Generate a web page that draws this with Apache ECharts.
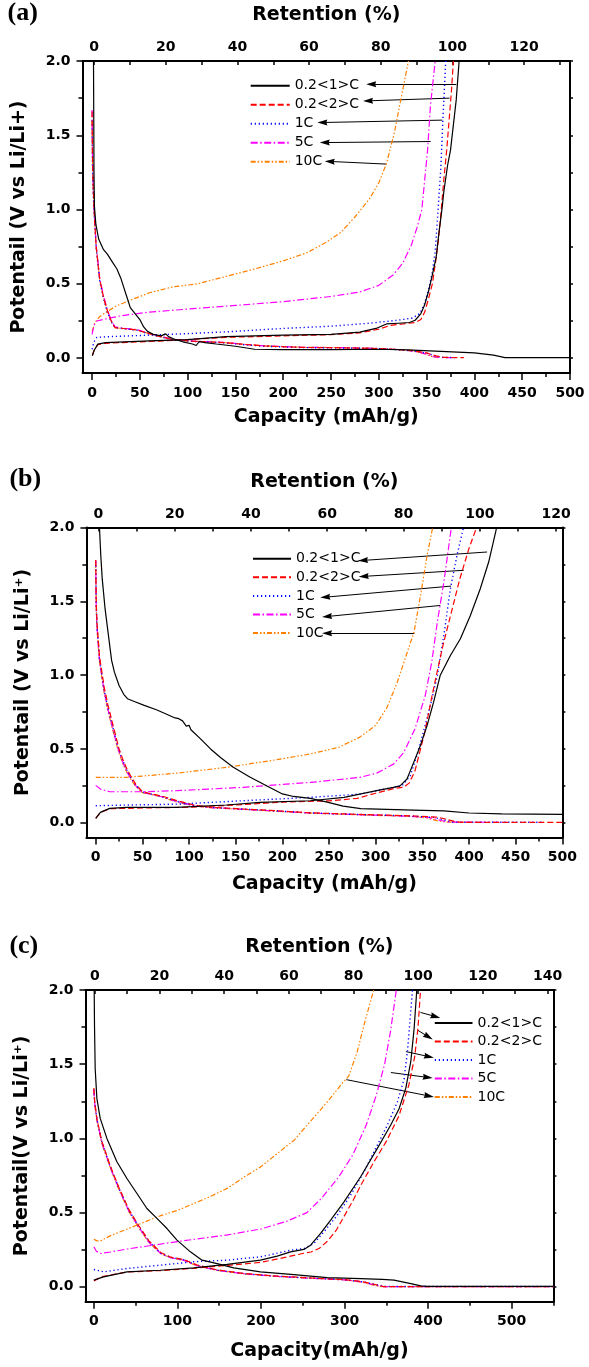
<!DOCTYPE html>
<html><head><meta charset="utf-8">
<script src="https://cdn.jsdelivr.net/npm/echarts@6/dist/echarts.min.js"></script>
<style>html,body{margin:0;padding:0;background:#fff}#c{width:589px;height:1367px}</style>
</head><body><div id="c"></div>
<script>
// ---------------- DATA ----------------
const rates = ['0.2<1>C', '0.2<2>C', '1C', '5C', '10C'];

// Panel (a): [capacity mAh/g, potential V]
const a_r1_dis = [[1.5,2.0],[1.8,1.6],[2.0,1.25],[2.5,1.02],[4,0.9],[7,0.8],[12,0.73],[16,0.70],[21,0.65],[26,0.60],[30,0.54],[33,0.48],[36,0.42],[40,0.34],[45,0.30],[50,0.26],[54,0.21],[58,0.18],[64,0.16],[72,0.15],[77,0.163],[80,0.145],[85,0.13],[95,0.11],[105,0.095],[109,0.085],[112,0.112],[118,0.105],[130,0.095],[150,0.08],[170,0.06],[200,0.057],[250,0.057],[300,0.06],[330,0.055],[365,0.045],[400,0.035],[420,0.02],[432,0.004],[500,0.004]];
const a_r1_chg = [[0.3,0.016],[2,0.05],[6,0.094],[14,0.105],[60,0.116],[100,0.125],[140,0.145],[200,0.155],[250,0.16],[280,0.175],[297,0.2],[308,0.23],[320,0.235],[332,0.24],[338,0.255],[344,0.3],[348,0.36],[352,0.45],[356,0.56],[360,0.68],[363,0.85],[366,1.0],[368,1.12],[372,1.3],[375,1.4],[378,1.57],[381,1.74],[384,2.0]];
const a_r2_dis = [[0,1.66],[0.5,1.35],[1.2,1.15],[2.3,0.98],[4.3,0.75],[8,0.53],[12,0.41],[16,0.32],[20,0.25],[24,0.205],[35,0.198],[47,0.19],[57,0.17],[67,0.152],[86,0.123],[110,0.112],[137,0.105],[160,0.092],[180,0.082],[220,0.072],[260,0.07],[297,0.065],[320,0.058],[336,0.05],[350,0.035],[360,0.015],[368,0.005],[389,0.003]];
const a_r2_chg = [[0.3,0.02],[2,0.05],[6,0.09],[14,0.1],[60,0.112],[100,0.125],[140,0.14],[200,0.15],[250,0.158],[280,0.17],[300,0.195],[312,0.22],[325,0.23],[338,0.24],[344,0.26],[348,0.31],[352,0.4],[356,0.5],[359,0.63],[361.5,0.75],[364,0.9],[366,1.05],[368,1.2],[371,1.4],[373,1.56],[376,1.8],[378,2.0]];
const a_r3_dis = [[0,1.6],[0.5,1.3],[1.2,1.12],[2.3,0.96],[4.3,0.74],[8,0.52],[12,0.4],[16,0.31],[20,0.245],[24,0.205],[35,0.197],[47,0.188],[57,0.168],[67,0.15],[86,0.122],[110,0.111],[137,0.104],[160,0.09],[180,0.08],[220,0.071],[260,0.069],[297,0.064],[320,0.057],[336,0.049],[350,0.033],[360,0.014],[368,0.005],[383,0.003]];
const a_r3_chg = [[0,0.06],[2,0.11],[5,0.14],[20,0.145],[60,0.155],[100,0.165],[150,0.18],[200,0.2],[250,0.215],[290,0.235],[320,0.255],[335,0.27],[343,0.3],[348,0.37],[352,0.46],[356,0.58],[359,0.72],[361,0.9],[363,1.1],[365,1.3],[367,1.6],[370,2.0]];
const a_r4_dis = [[0,1.67],[0.5,1.36],[1.2,1.16],[2.3,0.99],[4.3,0.76],[8,0.54],[12,0.42],[16,0.325],[20,0.255],[24,0.21],[35,0.2],[47,0.192],[57,0.172],[67,0.154],[86,0.125],[110,0.113],[137,0.106],[160,0.093],[180,0.083],[220,0.073],[260,0.071],[297,0.066],[320,0.058],[336,0.048],[348,0.03],[357,0.01],[365,0.004],[377,0.003]];
const a_r4_chg = [[0,0.16],[2,0.22],[5,0.25],[15,0.265],[30,0.285],[60,0.31],[100,0.33],[150,0.355],[200,0.38],[250,0.415],[280,0.445],[300,0.49],[315,0.56],[325,0.64],[334,0.76],[340,0.88],[345,1.0],[348,1.2],[351,1.4],[354,1.7],[359,2.0]];
const a_r5_dis = [[0,1.6],[0.5,1.3],[1.2,1.13],[2.3,0.97],[4.3,0.75],[8,0.53],[12,0.41],[16,0.32],[20,0.25],[24,0.205],[35,0.197],[47,0.19],[57,0.17],[67,0.152],[86,0.124],[110,0.113],[137,0.106],[160,0.093],[180,0.083],[220,0.073],[260,0.071],[297,0.066],[320,0.058],[336,0.047],[348,0.028],[357,0.008],[362,0.003]];
const a_r5_chg = [[0,0.18],[3,0.24],[8,0.28],[15,0.31],[25,0.35],[40,0.39],[60,0.44],[85,0.48],[110,0.5],[140,0.55],[170,0.6],[200,0.655],[225,0.71],[245,0.78],[260,0.845],[275,0.95],[290,1.07],[300,1.18],[308,1.31],[316,1.51],[323,1.74],[331,2.0]];

// Panel (b)
const b_r1_dis = [[4,2.0],[5.5,1.8],[7,1.65],[10,1.45],[13,1.3],[17,1.1],[20,1.02],[25,0.93],[30,0.87],[34,0.84],[42,0.82],[52,0.795],[65,0.765],[76,0.735],[85,0.71],[89,0.705],[91,0.715],[93,0.69],[97,0.655],[100,0.66],[102,0.63],[112,0.57],[123,0.5],[134,0.44],[147,0.377],[165,0.31],[183,0.25],[200,0.195],[212,0.178],[230,0.165],[248,0.14],[265,0.113],[284,0.096],[340,0.086],[373,0.08],[400,0.066],[435,0.06],[500,0.056]];
const b_r1_chg = [[0,0.03],[5,0.07],[15,0.097],[33,0.104],[87,0.104],[140,0.12],[176,0.138],[230,0.149],[266,0.172],[301,0.217],[319,0.24],[326,0.25],[333.5,0.296],[340.7,0.409],[347.8,0.522],[355,0.658],[362,0.817],[369,0.997],[380,1.133],[390.7,1.246],[401.4,1.404],[412,1.585],[421,1.766],[428.5,1.97],[429.5,2.0]];
const b_r2_dis = [[0,1.78],[0.5,1.5],[1.3,1.36],[4,1.13],[9,0.92],[13,0.8],[17,0.7],[21,0.6],[25,0.5],[29,0.43],[33,0.37],[38,0.31],[43,0.26],[50,0.21],[60,0.195],[70,0.182],[87,0.15],[105,0.12],[123,0.105],[158,0.093],[194,0.081],[230,0.067],[266,0.06],[301,0.053],[337,0.047],[366,0.038],[378,0.02],[386,0.006],[392,0.003],[500,0.003]];
const b_r2_chg = [[0,0.03],[5,0.07],[15,0.095],[50,0.1],[100,0.105],[150,0.12],[200,0.14],[250,0.148],[280,0.165],[300,0.2],[320,0.232],[330,0.24],[336,0.27],[342,0.35],[348,0.5],[352,0.6],[356,0.72],[360,0.85],[365,1.0],[372,1.2],[380,1.4],[390,1.65],[400,1.86],[408,2.0]];
const b_r3_dis = [[0,1.77],[0.5,1.48],[1.3,1.34],[4,1.11],[9,0.9],[13,0.78],[17,0.68],[21,0.58],[25,0.49],[29,0.42],[33,0.36],[38,0.3],[43,0.255],[50,0.208],[60,0.193],[70,0.18],[87,0.145],[105,0.117],[123,0.104],[158,0.092],[194,0.08],[230,0.066],[266,0.059],[301,0.052],[337,0.046],[362,0.036],[374,0.018],[382,0.005],[390,0.003],[480,0.003]];
const b_r3_chg = [[0,0.115],[20,0.118],[87,0.126],[158,0.149],[230,0.172],[283,0.194],[319,0.24],[328,0.25],[337,0.318],[344,0.454],[351,0.613],[358.5,0.794],[366,0.997],[373,1.27],[380,1.585],[387,1.81],[394,2.0]];
const b_r4_dis = [[0,1.78],[0.5,1.47],[1.3,1.33],[4,1.1],[9,0.89],[13,0.77],[17,0.67],[21,0.57],[25,0.48],[29,0.41],[33,0.35],[38,0.295],[43,0.25],[50,0.205],[60,0.192],[70,0.178],[87,0.143],[105,0.116],[123,0.103],[158,0.091],[194,0.079],[230,0.066],[266,0.058],[301,0.051],[337,0.044],[358,0.034],[370,0.015],[378,0.004],[440,0.003]];
const b_r4_chg = [[0,0.253],[5,0.228],[15,0.21],[51,0.21],[87,0.217],[158,0.24],[230,0.273],[283,0.307],[301,0.336],[319,0.397],[330,0.476],[342,0.635],[353,0.86],[360,1.087],[366,1.36],[373,1.63],[381,2.0]];
const b_r5_dis = [[0,1.76],[0.5,1.46],[1.3,1.32],[4,1.09],[9,0.88],[13,0.76],[17,0.66],[21,0.56],[25,0.47],[29,0.4],[33,0.345],[38,0.29],[43,0.245],[50,0.203],[60,0.19],[70,0.176],[87,0.14],[105,0.114],[123,0.102],[158,0.09],[194,0.078],[230,0.065],[266,0.057],[301,0.05],[337,0.043],[355,0.032],[367,0.012],[376,0.004],[410,0.003]];
const b_r5_chg = [[0,0.307],[33,0.307],[87,0.336],[140,0.375],[194,0.427],[230,0.466],[260,0.51],[283,0.58],[300,0.66],[312,0.78],[323,0.95],[333.5,1.15],[341,1.29],[348,1.54],[355,1.81],[361,2.0]];

// Panel (c)
const c_r1_dis = [[0.4,2.0],[0.8,1.75],[1.6,1.47],[3.6,1.27],[7.6,1.135],[15.6,1.0],[27.6,0.843],[39.6,0.73],[51.6,0.629],[63.5,0.528],[75.5,0.461],[87.5,0.393],[99.5,0.315],[115.5,0.236],[129.5,0.18],[147.5,0.157],[167.5,0.128],[199.4,0.101],[239.4,0.083],[279.4,0.062],[319.3,0.056],[345,0.05],[359.3,0.045],[379.3,0.022],[391.3,0.007],[399,0.003],[550,0.003]];
const c_r1_chg = [[0,0.045],[11.6,0.067],[39.6,0.101],[79.5,0.112],[119.5,0.128],[159.5,0.151],[199.4,0.18],[219.4,0.207],[235.4,0.236],[251.4,0.252],[259.4,0.281],[271.4,0.36],[283.4,0.45],[299.4,0.573],[319.3,0.742],[339.3,0.933],[355.3,1.09],[365.3,1.2],[373.3,1.337],[379.3,1.517],[383.3,1.74],[386.5,2.0]];
const c_r2_dis = [[0,1.34],[1,1.25],[3.6,1.135],[9.6,0.98],[20,0.81],[30,0.67],[42,0.52],[54,0.41],[66,0.31],[80,0.232],[92,0.2],[107,0.185],[123,0.148],[147,0.115],[180,0.09],[220,0.072],[260,0.06],[300,0.049],[323,0.034],[340,0.011],[347,0.002],[550,0.002]];
const c_r2_chg = [[0,0.04],[10,0.07],[40,0.1],[80,0.11],[120,0.125],[160,0.145],[200,0.165],[230,0.2],[250,0.225],[260,0.235],[270,0.26],[280,0.31],[290,0.38],[300,0.48],[310,0.58],[320,0.69],[335,0.84],[350,0.98],[365,1.15],[377,1.36],[384,1.55],[388,1.75],[391,2.0]];
const c_r3_dis = [[0,1.33],[1,1.24],[3.6,1.13],[9.6,0.975],[20,0.805],[30,0.665],[42,0.515],[54,0.405],[66,0.305],[80,0.228],[92,0.198],[107,0.183],[123,0.146],[147,0.113],[180,0.089],[220,0.071],[260,0.059],[300,0.048],[323,0.033],[342,0.01],[350,0.002],[550,0.002]];
const c_r3_chg = [[0,0.117],[11.6,0.101],[39.6,0.124],[79.5,0.146],[119.5,0.169],[159.5,0.18],[199.4,0.202],[235.4,0.247],[251.4,0.258],[263.4,0.292],[275.4,0.371],[291.4,0.483],[307.3,0.618],[323.3,0.776],[339.3,0.955],[351.3,1.09],[363.3,1.247],[371.3,1.4],[375.3,1.585],[379.3,1.855],[381.3,2.0]];
const c_r4_dis = [[0,1.33],[1,1.24],[3.6,1.13],[9.6,0.97],[20,0.8],[30,0.66],[42,0.51],[54,0.4],[66,0.3],[80,0.225],[92,0.196],[107,0.18],[123,0.144],[147,0.112],[180,0.088],[220,0.07],[260,0.058],[300,0.047],[320,0.034],[338,0.01],[346,0.002],[550,0.002]];
const c_r4_chg = [[0,0.27],[3,0.24],[8,0.225],[20,0.235],[40,0.255],[100,0.305],[160,0.35],[200,0.39],[230,0.44],[255,0.5],[273,0.6],[293,0.74],[310,0.89],[326,1.09],[338,1.29],[348,1.5],[355,1.72],[362,2.0]];
const c_r5_dis = [[0,1.32],[1,1.23],[3.6,1.12],[9.6,0.965],[20,0.795],[30,0.655],[42,0.505],[54,0.395],[66,0.298],[80,0.224],[92,0.195],[107,0.179],[123,0.143],[147,0.111],[180,0.088],[220,0.07],[260,0.058],[300,0.047],[320,0.033],[336,0.01],[344,0.002],[550,0.002]];
const c_r5_chg = [[0,0.32],[4,0.31],[8,0.31],[20,0.345],[40,0.39],[60,0.435],[80,0.48],[100,0.515],[140,0.61],[160,0.665],[180,0.74],[200,0.81],[220,0.9],[240,0.99],[260,1.12],[280,1.25],[297,1.37],[305,1.42],[315,1.58],[325,1.8],[335,2.0]];

// Arrow annotations [fromCap, fromV, toCap, toV]
const a_arrows = [[381,1.844,292,1.844],[374,1.750,288.7,1.732],[366.4,1.602,240.9,1.586],[354.2,1.458,243.4,1.451],[307.9,1.306,248.6,1.324]];
const b_arrows = [[419.3,1.834,286.4,1.777],[394.3,1.710,287.1,1.669],[380.7,1.603,245.9,1.528],[369.2,1.472,247.8,1.397],[341.4,1.286,247.8,1.284]];
const c_arrows = [[390.9,1.849,408.9,1.821],[387.9,1.728,400.5,1.684],[373.5,1.585,401.1,1.551],[355.5,1.444,399.6,1.411],[302.2,1.396,401.1,1.286]];

// Axis ranges & tick labels
const capRangeA = [-10, 500], capRangeB = [-10, 500], capRangeC = [-10, 550];
const retRangeA = [-3.23, 132.8], retRangeB = [-3.13, 121.65], retRangeC = [-2.9, 141.8];
const capLabelsAB = [0,50,100,150,200,250,300,350,400,450,500];
const capMinorAB = [25,75,125,175,225,275,325,375,425,475];
const capLabelsC = [0,100,200,300,400,500];
const capMinorC = [50,150,250,350,450,550];
const retLabelsAB = [0,20,40,60,80,100,120];
const retTicksA = [0,10,20,30,40,50,60,70,80,90,100,110,120,130];
const retTicksB = [0,10,20,30,40,50,60,70,80,90,100,110,120];
const retLabelsC = [0,20,40,60,80,100,120,140];
const retTicksC = [0,10,20,30,40,50,60,70,80,90,100,110,120,130,140];
const potLabels = [0,0.5,1.0,1.5,2.0];
const potMinor = [0.25,0.75,1.25,1.75];
const potAll = [0,0.25,0.5,0.75,1.0,1.25,1.5,1.75,2.0];
const potRange = [-0.1, 2.0];

// ---------------- LAYOUT / STYLE ----------------
const SANS = 'DejaVu Sans';
const styles = [
  {color:'#000000', type:'solid', width:1.2},
  {color:'#ff0000', type:[6,3], width:1.2},
  {color:'#0000ff', type:[1.2,2.8], width:1.4},
  {color:'#ff00ff', type:[7,2.5,1.5,2.5], width:1.2},
  {color:'#ff8000', type:[5,2,1.5,2,1.5,2], width:1.2}
];
const ARROW = 'path://M3,0 L6,10 L3,9 L0,10 Z';

const panels = [
  {grid:{left:82.5, top:61, width:487.5, height:312}, cap:capRangeA, ret:retRangeA, capLabels:capLabelsAB, capMinor:capMinorAB, retLabels:retLabelsAB, retTicks:retTicksA,
   xName:'Capacity (mAh/g)', yName:'Potentail (V vs Li/Li+)', xGap:35, tGap:36, tMargin:7,
   curves:[[a_r1_dis,a_r1_chg],[a_r2_dis,a_r2_chg],[a_r3_dis,a_r3_chg],[a_r4_dis,a_r4_chg],[a_r5_dis,a_r5_chg]], arrows:a_arrows,
   legend:{left:249.7, top:78.7, itemWidth:39, itemGap:5}, label:'(a)', labelPos:[7.5, 15]},
  {grid:{left:86.4, top:527.5, width:476, height:310}, cap:capRangeB, ret:retRangeB, capLabels:capLabelsAB, capMinor:capMinorAB, retLabels:retLabelsAB, retTicks:retTicksB,
   xName:'Capacity (mAh/g)', yName:'Potentail (V vs Li/Li\u207A)', xGap:37.5, tGap:36, tMargin:6,
   curves:[[b_r1_dis,b_r1_chg],[b_r2_dis,b_r2_chg],[b_r3_dis,b_r3_chg],[b_r4_dis,b_r4_chg],[b_r5_dis,b_r5_chg]], arrows:b_arrows,
   legend:{left:252, top:551.7, itemWidth:38, itemGap:4.6}, label:'(b)', labelPos:[9.4, 481.7]},
  {grid:{left:85.5, top:990, width:467.9, height:311.7}, cap:capRangeC, ret:retRangeC, capLabels:capLabelsC, capMinor:capMinorC, retLabels:retLabelsC, retTicks:retTicksC,
   xName:'Capacity(mAh/g)', yName:'Potentail(V vs Li/Li\u207A)', xGap:40, tGap:33, tMargin:6.5,
   curves:[[c_r1_dis,c_r1_chg],[c_r2_dis,c_r2_chg],[c_r3_dis,c_r3_chg],[c_r4_dis,c_r4_chg],[c_r5_dis,c_r5_chg]], arrows:c_arrows,
   legend:{left:433.8, top:1016, itemWidth:37.7, itemGap:4.5}, label:'(c)', labelPos:[9.4, 948]}
];

const axisLine = {show:true, onZero:false, lineStyle:{color:'#000', width:2}};
const noLine = {show:false, onZero:false};
const tickFont = {fontFamily:SANS, fontWeight:'bold', fontSize:14, color:'#000'};
const nameFont = {fontFamily:SANS, fontWeight:'bold', fontSize:19, color:'#000'};

const grids = [], xAxes = [], yAxes = [], series = [], legends = [], graphics = [];
panels.forEach((p, pi) => {
  grids.push(Object.assign({containLabel:false}, p.grid));
  xAxes.push({gridIndex:pi, type:'value', position:'bottom', min:p.cap[0], max:p.cap[1],
    axisLine, splitLine:{show:false},
    axisTick:{show:true, inside:false, length:7, customValues:p.capLabels, lineStyle:{color:'#000', width:1.5}},
    axisLabel:{show:true, margin:13, customValues:p.capLabels, ...tickFont},
    name:p.xName, nameLocation:'middle', nameGap:p.xGap, nameTextStyle:nameFont});
  xAxes.push({gridIndex:pi, type:'value', position:'bottom', min:p.cap[0], max:p.cap[1],
    axisLine:noLine, splitLine:{show:false}, axisLabel:{show:false},
    axisTick:{show:true, inside:false, length:4, customValues:p.capMinor, lineStyle:{color:'#000', width:1.5}}});
  xAxes.push({gridIndex:pi, type:'value', position:'top', min:p.ret[0], max:p.ret[1],
    axisLine, splitLine:{show:false},
    axisTick:{show:true, inside:true, length:4, customValues:p.retTicks, lineStyle:{color:'#000', width:1.5}},
    axisLabel:{show:true, margin:p.tMargin, customValues:p.retLabels, ...tickFont},
    name:'Retention (%)', nameLocation:'middle', nameGap:p.tGap, nameTextStyle:nameFont});
  yAxes.push({gridIndex:pi, type:'value', position:'left', min:potRange[0], max:potRange[1],
    axisLine, splitLine:{show:false},
    axisTick:{show:true, inside:false, length:6, customValues:potLabels, lineStyle:{color:'#000', width:1.5}},
    axisLabel:{show:true, margin:12, customValues:potLabels, formatter:v => Number(v).toFixed(1), ...tickFont},
    name:p.yName, nameLocation:'middle', nameGap:54, nameTextStyle:nameFont});
  yAxes.push({gridIndex:pi, type:'value', position:'left', min:potRange[0], max:potRange[1],
    axisLine:noLine, splitLine:{show:false}, axisLabel:{show:false},
    axisTick:{show:true, inside:false, length:4, customValues:potMinor, lineStyle:{color:'#000', width:1.5}}});
  yAxes.push({gridIndex:pi, type:'value', position:'right', min:potRange[0], max:potRange[1],
    axisLine, splitLine:{show:false}, axisLabel:{show:false},
    axisTick:{show:true, inside:false, length:3, customValues:potAll, lineStyle:{color:'#000', width:1.5}}});

  p.curves.forEach((pair, ri) => {
    pair.forEach((data, k) => {
      const s = {type:'line', name:rates[ri], xAxisIndex:pi*3, yAxisIndex:pi*3, data,
        symbol:'none', showSymbol:false, smooth:false, silent:true, animation:false,
        color:styles[ri].color, lineStyle:{...styles[ri]}, z: 10 - ri};
      if (ri === 0 && k === 1) {
        s.markLine = {silent:true, animation:false, symbol:['none', ARROW], symbolSize:10, symbolKeepAspect:true,
          lineStyle:{color:'#000', width:1, type:'solid'}, itemStyle:{color:'#000'}, label:{show:false}, emphasis:{disabled:true},
          data: p.arrows.map(a => [{coord:[a[0],a[1]]},{coord:[a[2],a[3]]}])};
      }
      series.push(s);
    });
  });

  legends.push({orient:'vertical', left:p.legend.left, top:p.legend.top, itemWidth:p.legend.itemWidth, itemHeight:14,
    itemGap:p.legend.itemGap, padding:0, selectedMode:false, data:rates,
    itemStyle:{color:'rgba(0,0,0,0)', borderColor:'rgba(0,0,0,0)', borderWidth:0, opacity:0},
    textStyle:{fontFamily:SANS, fontSize:14, color:'#000'}});

  graphics.push({type:'text', left:p.labelPos[0], top:p.labelPos[1]-15,
    style:{text:p.label, fontFamily:'Liberation Serif', fontWeight:'bold', fontSize:26, fill:'#000'}});
});

const chart = echarts.init(document.getElementById('c'), null, {renderer:'canvas'});
chart.setOption({
  animation:false, backgroundColor:'#fff',
  grid:grids, xAxis:xAxes, yAxis:yAxes, series, legend:legends, graphic:graphics
});
</script></body></html>
